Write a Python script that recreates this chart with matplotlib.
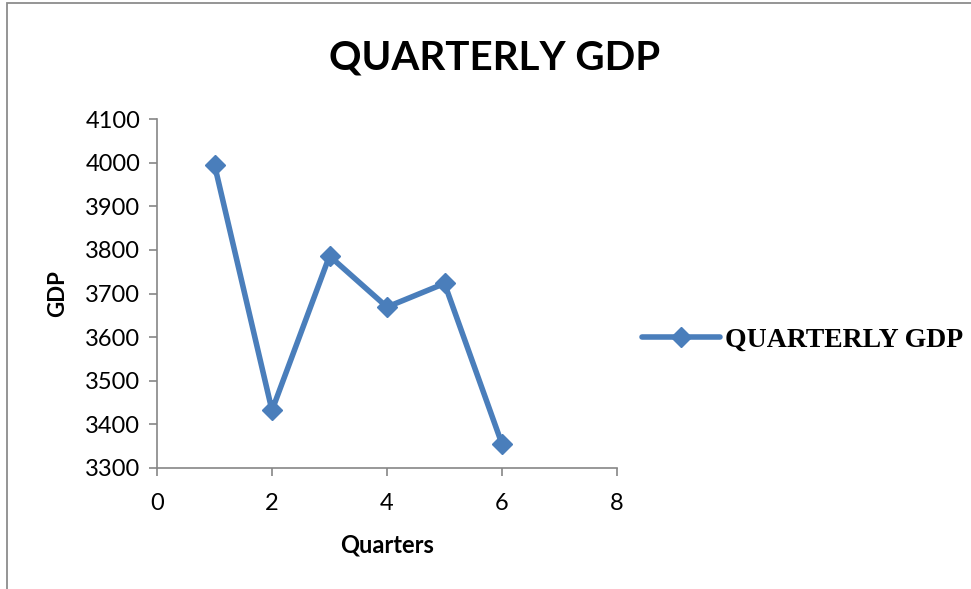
import matplotlib
matplotlib.use("Agg")
import matplotlib.pyplot as plt
from matplotlib.patches import Rectangle

quarters = [1, 2, 3, 4, 5, 6]
gdp = [3995, 3432, 3786, 3669, 3723, 3355]
series_name = "QUARTERLY GDP"
xticks = [0, 2, 4, 6, 8]
yticks = [3300, 3400, 3500, 3600, 3700, 3800, 3900, 4000, 4100]

W, H = 971, 589
fig = plt.figure(figsize=(W / 100, H / 100), dpi=100)
fig.patch.set_facecolor("white")

# outer chart border (top and left visible)
fig.add_artist(Rectangle((7 / W, -0.1), 1.2, 1 - 3 / H + 0.1, transform=fig.transFigure,
                         fill=False, edgecolor="#8c8c8c", linewidth=1.3))

ax = fig.add_axes([157 / W, 1 - 468 / H, (617 - 157) / W, (468 - 119) / H])
color = "#4a7ebb"
ax.plot(quarters, gdp, color=color, linewidth=4, marker="D", markersize=10,
        markeredgecolor=color, markerfacecolor=color, label=series_name,
        solid_joinstyle="round", solid_capstyle="round")

ax.set_xlim(0, 8)
ax.set_ylim(3300, 4100)
ax.set_xticks(xticks)
ax.set_yticks(yticks)
for s in ["top", "right"]:
    ax.spines[s].set_visible(False)
for s in ["left", "bottom"]:
    ax.spines[s].set_color("#868686")
    ax.spines[s].set_linewidth(1.2)
ax.tick_params(axis="both", colors="#868686", length=6, width=1.2, labelcolor="black",
               labelsize=17)
for lab in ax.get_xticklabels() + ax.get_yticklabels():
    lab.set_family("Lato")
ax.tick_params(axis="x", direction="out", pad=12)
ax.tick_params(axis="y", direction="out", pad=6)

ax.set_xlabel("Quarters", fontsize=17, fontweight="bold", family="Lato", labelpad=14)
ax.set_ylabel("GDP", fontsize=16, fontweight="bold", family="Lato", labelpad=12)

fig.text(495 / W, 1 - 58 / H, "QUARTERLY GDP", ha="center", va="center",
         fontsize=29, fontweight="bold", family="Lato")

leg = ax.legend(loc="center left", bbox_to_anchor=(1.0, 0.367), frameon=False,
                prop={"family": "Liberation Serif", "weight": "bold", "size": 20},
                handlelength=2.8, handletextpad=0.2)

fig.savefig("out.png", dpi=100, facecolor="white")
